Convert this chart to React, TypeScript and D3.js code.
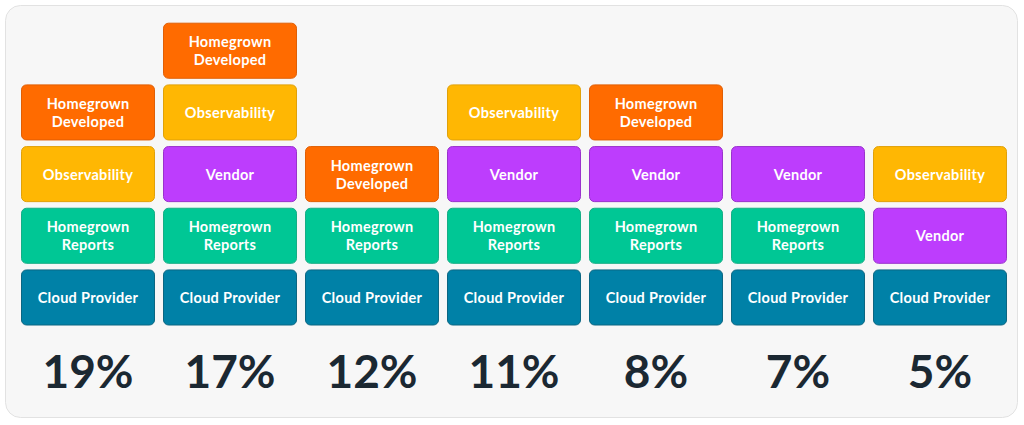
import React, { useRef, useEffect } from 'react';
import * as d3 from 'd3';

// Percent shown under each column
const percents = ['19%', '17%', '12%', '11%', '8%', '7%', '5%'];

// Blocks of every column, from bottom to top
const stacks: string[][] = [
  ['Cloud Provider', 'Homegrown Reports', 'Observability', 'Homegrown Developed'],
  ['Cloud Provider', 'Homegrown Reports', 'Vendor', 'Observability', 'Homegrown Developed'],
  ['Cloud Provider', 'Homegrown Reports', 'Homegrown Developed'],
  ['Cloud Provider', 'Homegrown Reports', 'Vendor', 'Observability'],
  ['Cloud Provider', 'Homegrown Reports', 'Vendor', 'Homegrown Developed'],
  ['Cloud Provider', 'Homegrown Reports', 'Vendor'],
  ['Cloud Provider', 'Vendor', 'Observability'],
];

const tools = ['Cloud Provider', 'Homegrown Reports', 'Vendor', 'Observability', 'Homegrown Developed'];
const fills = ['#0081a7', '#00c795', '#bd3dfd', '#ffb703', '#ff6b00'];
const strokes = ['#0b6682', '#16ad85', '#9a33cc', '#e0a10a', '#e05f05'];

// two-line labels
const labelLines: Record<string, string[]> = {
  'Cloud Provider': ['Cloud Provider'],
  'Homegrown Reports': ['Homegrown', 'Reports'],
  'Vendor': ['Vendor'],
  'Observability': ['Observability'],
  'Homegrown Developed': ['Homegrown', 'Developed'],
};

const App = () => {
  const svgRef = useRef<SVGSVGElement>(null);

  useEffect(() => {
    if (!svgRef.current) return;
    const svg = d3.select(svgRef.current);
    svg.selectAll('*').remove();

    const width = 1024;
    const height = 425;
    svg.attr('width', width).attr('height', height);

    // card background
    svg.append('rect')
      .attr('x', 5.5).attr('y', 5.5)
      .attr('width', 1012).attr('height', 412)
      .attr('rx', 15)
      .attr('fill', '#f7f7f7')
      .attr('stroke', '#e2e2e2');

    const x = d3.scaleBand<string>()
      .domain(percents)
      .range([21, 1007])
      .paddingInner(8 / 142)
      .paddingOuter(0);

    const y = d3.scaleBand<number>()
      .domain([0, 1, 2, 3, 4])
      .range([325.5, 22.7])
      .paddingInner(0.0909)
      .paddingOuter(0);

    const color = d3.scaleOrdinal<string, string>().domain(tools).range(fills);
    const border = d3.scaleOrdinal<string, string>().domain(tools).range(strokes);

    const cols = svg.selectAll('g.col')
      .data(stacks)
      .enter()
      .append('g')
      .attr('class', 'col')
      .attr('transform', (d, i) => `translate(${x(percents[i])},0)`);

    const blocks = cols.selectAll('g.block')
      .data(d => d.map((name, level) => ({ name, level })))
      .enter()
      .append('g')
      .attr('class', 'block');

    blocks.append('rect')
      .attr('x', 0.5)
      .attr('y', d => y(d.level)! + 0.5)
      .attr('width', x.bandwidth() - 1)
      .attr('height', y.bandwidth() - 1)
      .attr('rx', 5)
      .attr('fill', d => color(d.name))
      .attr('stroke', d => border(d.name));

    blocks.each(function (d) {
      const lines = labelLines[d.name];
      const cy = y(d.level)! + y.bandwidth() / 2 + 0.5;
      const lh = 18;
      const t = d3.select(this).append('text')
        .attr('text-anchor', 'middle')
        .attr('fill', '#ffffff')
        .attr('font-family', 'Lato, "Noto Sans", sans-serif')
        .attr('font-weight', 700)
        .attr('font-size', 14.5)
        .attr('letter-spacing', 0.3);
      lines.forEach((ln, k) => {
        t.append('tspan')
          .attr('x', x.bandwidth() / 2)
          .attr('y', cy + (k - (lines.length - 1) / 2) * lh)
          .attr('dy', '0.35em')
          .text(ln);
      });
    });

    svg.selectAll('text.pct')
      .data(percents)
      .enter()
      .append('text')
      .attr('class', 'pct')
      .attr('x', d => x(d)! + x.bandwidth() / 2)
      .attr('y', 388)
      .attr('text-anchor', 'middle')
      .attr('fill', '#1b2832')
      .attr('font-family', 'Lato, "Noto Sans", sans-serif')
      .attr('font-weight', 700)
      .attr('font-size', 46)
      .text(d => d);
  }, []);

  return (
    <div style={{ position: 'absolute', left: 0, top: 0 }}>
      <svg ref={svgRef} style={{ display: 'block' }}></svg>
    </div>
  );
};

export default App;
